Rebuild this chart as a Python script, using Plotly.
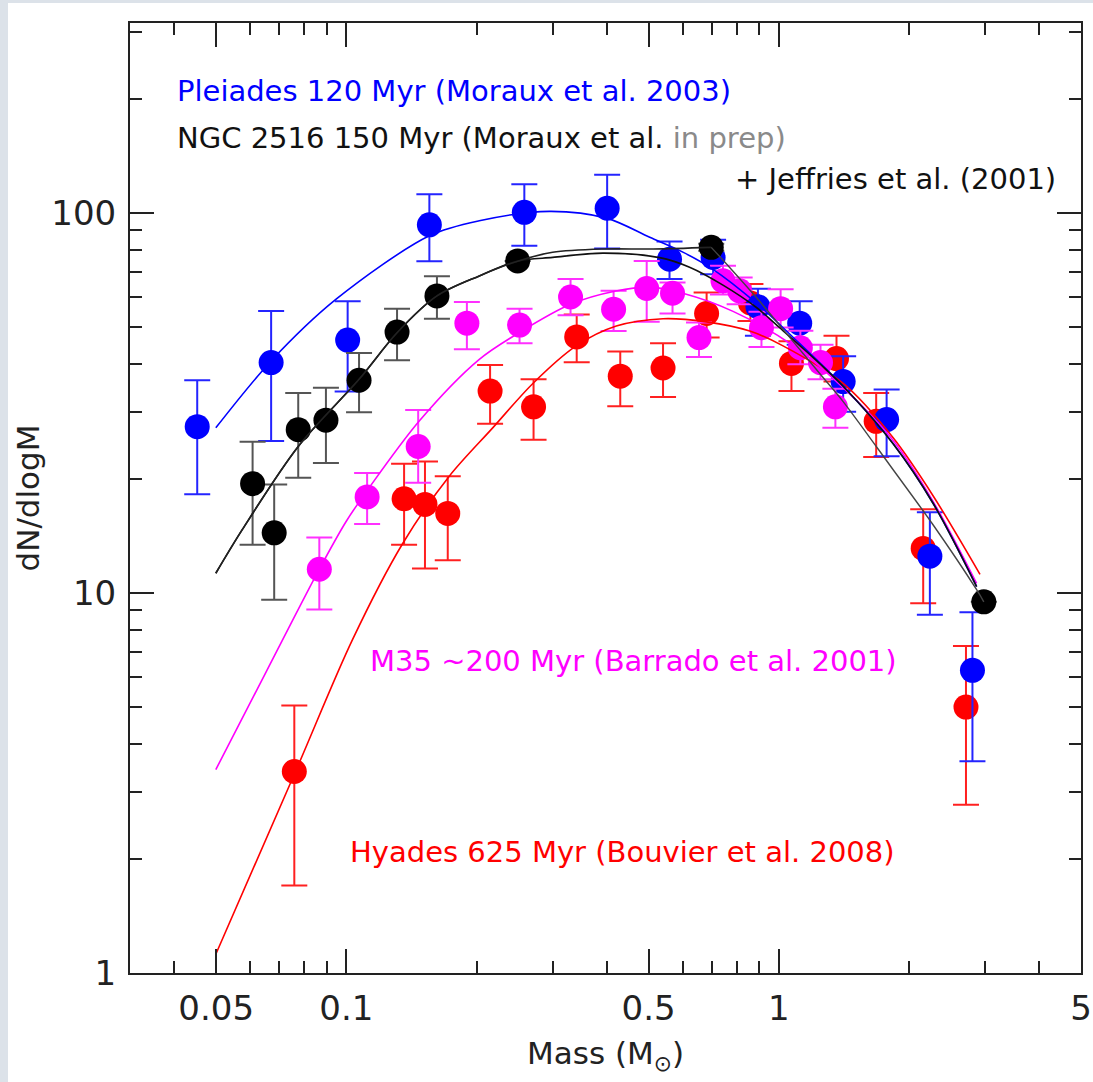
import numpy as np
import plotly.graph_objects as go

# ---- Measured mass functions (dN/dlogM) --------------------------------
# Pleiades, 120 Myr (Moraux et al. 2003)
ple_mass = [0.0452, 0.067, 0.1007, 0.1556, 0.258, 0.401, 0.559, 0.705,
            0.895, 1.118, 1.409, 1.776, 2.236, 2.805]
ple_val = [27.4, 40.4, 46.3, 93.1, 100.4, 102.9, 75.6, 76.4,
           56.7, 51.3, 36.0, 28.6, 12.5, 6.26]
ple_hi = [36.3, 55.2, 58.6, 112, 119, 126, 84.2, 85.0,
          63.2, 58.6, 42.0, 34.3, 16.3, 8.9]
ple_lo = [18.2, 25.1, 33.9, 74.6, 82.0, 80.7, 67.0, 69.0,
          47.5, 45.0, 30.0, 22.9, 8.76, 3.61]

# NGC 2516, 150 Myr (Moraux et al. in prep + Jeffries et al. 2001)
ngc_mass = [0.0607, 0.0681, 0.0774, 0.0897, 0.107, 0.131, 0.162, 0.249, 0.698, 2.98]
ngc_val = [19.4, 14.4, 26.9, 28.5, 36.3, 48.6, 60.5, 74.8, 81.2, 9.48]
ngc_hi = [25.0, 19.3, 33.6, 34.7, 42.8, 56.0, 68.2, None, 83.0, None]
ngc_lo = [13.4, 9.6, 20.1, 22.0, 29.9, 41.0, 52.7, None, 79.5, None]

# M35, ~200 Myr (Barrado et al. 2001)
m35_mass = [0.0866, 0.1117, 0.1466, 0.19, 0.2515, 0.33, 0.415, 0.495, 0.568,
            0.654, 0.743, 0.812, 0.912, 1.01, 1.122, 1.249, 1.352]
m35_val = [11.55, 17.9, 24.3, 51.3, 50.7, 60.1, 55.8, 63.3, 61.5,
           47.0, 66.3, 62.4, 49.9, 56.0, 44.2, 40.4, 30.9]
m35_hi = [14.0, 20.7, 30.3, 58.3, 56.0, 67.0, 62.4, 74.8, 65.6,
          51.5, 72.6, 67.6, 55.0, 63.0, 49.0, 45.0, 34.5]
m35_lo = [9.05, 15.2, 19.5, 43.8, 45.4, 53.8, 48.9, 51.7, 54.4,
          41.8, 61.0, 57.5, 44.4, 50.0, 40.0, 36.5, 27.2]

# Hyades, 625 Myr (Bouvier et al. 2008)
hya_mass = [0.0758, 0.136, 0.152, 0.1716, 0.215, 0.271, 0.341, 0.43, 0.54,
            0.681, 0.86, 1.07, 1.36, 1.68, 2.158, 2.71]
hya_val = [3.39, 17.7, 17.1, 16.2, 34.0, 30.9, 47.2, 37.2, 39.1,
           54.4, 58.0, 40.2, 41.4, 28.3, 13.1, 5.01]
hya_hi = [5.06, 21.9, 22.2, 20.3, 39.8, 36.5, 54.1, 43.2, 45.4,
          61.8, 65.0, 46.0, 47.5, 33.6, 16.6, 7.25]
hya_lo = [1.70, 13.4, 11.6, 12.2, 27.9, 25.3, 40.5, 31.0, 32.8,
          47.0, 52.0, 34.0, 36.0, 22.8, 9.4, 2.77]

# ---- Fitted mass functions -----------------------------------------------
ple_fit_m = [0.0499, 0.067, 0.0947, 0.1556, 0.203, 0.295, 0.401, 0.503, 0.600,
             0.703, 0.888, 1.079, 1.409, 1.839, 2.276, 2.868]
ple_fit_v = [27.2, 40.8, 59.3, 87.1, 95.4, 101.0, 96.8, 86.3, 78.9,
             71.2, 57.9, 47.1, 35.0, 24.7, 17.2, 10.4]

ngc_fit_m = [0.0499, 0.0575, 0.0774, 0.107, 0.131, 0.162, 0.203, 0.249, 0.300,
             0.392, 0.530, 0.622, 0.743, 0.888, 1.005, 1.159, 1.409, 1.839,
             2.276, 2.868]
ngc_fit_v = [11.27, 14.7, 24.3, 36.5, 48.4, 60.5, 68.3, 74.7, 76.4,
             78.4, 76.3, 72.0, 64.6, 56.4, 49.9, 43.2, 35.0, 24.7,
             17.2, 10.4]

# two-part fit: low-mass segment up to 0.7 Msun, then high-mass segment
ngc_low_m = [0.0499, 0.0575, 0.0774, 0.107, 0.131, 0.162, 0.203, 0.249, 0.300,
             0.392, 0.512, 0.698]
ngc_low_v = [11.27, 14.7, 24.3, 36.5, 48.4, 60.5, 68.3, 74.7, 78.8,
             80.4, 80.4, 81.2]
ngc_high_m = [0.698, 0.770, 0.888, 1.061, 1.266, 1.409, 1.839, 2.276, 2.868, 2.98]
ngc_high_v = [81.2, 71.9, 59.9, 47.0, 36.9, 31.9, 21.1, 15.1, 10.2, 9.48]

m35_fit_m = [0.0499, 0.0652, 0.0866, 0.0998, 0.1117, 0.1476, 0.203, 0.2515, 0.33,
             0.42, 0.503, 0.600, 0.784, 1.079, 1.409, 1.839, 2.276, 2.868]
m35_fit_v = [3.43, 6.19, 11.55, 15.4, 18.6, 28.4, 41.2, 48.5, 57.5,
             62.3, 63.8, 61.5, 55.1, 44.8, 34.7, 25.2, 17.4, 10.6]

hya_fit_m = [0.0499, 0.0762, 0.1034, 0.135, 0.173, 0.218, 0.270, 0.340, 0.421,
             0.540, 0.680, 0.857, 1.023, 1.409, 1.839, 2.276, 2.92]
hya_fit_v = [1.12, 3.38, 7.55, 13.5, 20.3, 27.2, 35.6, 44.7, 50.4,
             52.7, 51.7, 48.9, 44.7, 35.6, 25.6, 18.0, 11.2]

# ---- Axis ticks ----------------------------------------------------------
x_major = [0.05, 0.1, 0.5, 1, 5]
x_major_text = ["0.05", "0.1", "0.5", "1", "5"]
x_minor = [0.04, 0.06, 0.07, 0.08, 0.09, 0.2, 0.3, 0.4, 0.6, 0.7, 0.8, 0.9, 2, 3, 4]
y_major = [1, 10, 100]
y_major_text = ["1", "10", "100"]
y_minor = [2, 3, 4, 5, 6, 7, 8, 9, 20, 30, 40, 50, 60, 70, 80, 90, 200, 300]

BLUE, BLACK, MAGENTA, RED = "#0000ff", "#000000", "#ff00ff", "#ff0000"
FONT = "DejaVu Sans"
AXIS_COL = "#222222"


def err_plus(val, hi):
    return [None if h is None else h - v for v, h in zip(val, hi)]


def err_minus(val, lo):
    return [None if l is None else v - l for v, l in zip(val, lo)]


def points(name, mass, val, hi, lo, color, ecolor):
    return go.Scatter(
        x=mass, y=val, mode="markers", name=name,
        marker=dict(color=color, size=25, line=dict(width=0)),
        error_y=dict(type="data", symmetric=False,
                     array=err_plus(val, hi), arrayminus=err_minus(val, lo),
                     color=ecolor, thickness=2, width=13),
    )


def curve(name, mass, val, color, width=1.6):
    return go.Scatter(x=mass, y=val, mode="lines", name=name,
                      line=dict(color=color, width=width, shape="spline",
                                smoothing=0.9))


fig = go.Figure()
fig.add_trace(points("Hyades", hya_mass, hya_val, hya_hi, hya_lo, RED, "#ff2020"))
fig.add_trace(points("Pleiades", ple_mass, ple_val, ple_hi, ple_lo, BLUE, "#2424ff"))
fig.add_trace(points("M35", m35_mass, m35_val, m35_hi, m35_lo, MAGENTA, "#ff30ff"))
fig.add_trace(points("NGC 2516", ngc_mass, ngc_val, ngc_hi, ngc_lo, BLACK, "#555555"))

fig.add_trace(curve("Hyades fit", hya_fit_m, hya_fit_v, RED))
fig.add_trace(curve("M35 fit", m35_fit_m, m35_fit_v, MAGENTA))
fig.add_trace(curve("Pleiades fit", ple_fit_m, ple_fit_v, BLUE))
fig.add_trace(curve("NGC 2516 fit", ngc_fit_m, ngc_fit_v, "#111111"))
fig.add_trace(curve("NGC 2516 fit (low)", ngc_low_m, ngc_low_v, "#222222"))
fig.add_trace(curve("NGC 2516 fit (high)", ngc_high_m, ngc_high_v, "#444444", 1.4))

axis_common = dict(
    showgrid=False, zeroline=False, showline=True, linecolor=AXIS_COL, linewidth=2,
    mirror="allticks", ticks="inside", ticklen=24, tickwidth=2, tickcolor=AXIS_COL,
    tickfont=dict(family=FONT, size=34, color="#222222"),
)

fig.update_xaxes(
    type="log", range=[np.log10(0.0316), np.log10(5.0)],
    tickmode="array", tickvals=x_major, ticktext=x_major_text,
    minor=dict(tickmode="array", tickvals=x_minor, ticks="inside", ticklen=12,
               tickwidth=2, tickcolor=AXIS_COL, showgrid=False),
    ticklabelstandoff=4,
    title=dict(text="Mass (M<sub>⊙</sub>)", font=dict(family=FONT, size=31, color="#222222"),
               standoff=16),
    **axis_common,
)
fig.update_yaxes(
    type="log", range=[0, 2.5],
    tickmode="array", tickvals=y_major, ticktext=y_major_text,
    minor=dict(tickmode="array", tickvals=y_minor, ticks="inside", ticklen=12,
               tickwidth=2, tickcolor=AXIS_COL, showgrid=False),
    ticklabelstandoff=5,
    title=dict(text="dN/dlogM", font=dict(family=FONT, size=31, color="#222222"),
               standoff=2),
    **axis_common,
)

# plot-area geometry (pixels) used to place the text labels
L, R, T, B, W, H = 130, 12, 23, 109, 1093, 1082
PW, PH = W - L - R, H - T - B


def px(x):
    return (x - L) / PW


def py(y):
    return (H - B - y) / PH


labels = [
    ("Pleiades 120 Myr (Moraux et al. 2003)", 175, 91, "left", BLUE),
    ("NGC 2516 150 Myr (Moraux et al. <span style='color:#8a8a8a'>in prep)</span>",
     175, 138, "left", "#111111"),
    ("+ Jeffries et al. (2001)", 1058, 179, "right", "#111111"),
    ("M35 ~200 Myr (Barrado et al. 2001)", 368, 661, "left", MAGENTA),
    ("Hyades 625 Myr (Bouvier et al. 2008)", 348, 852, "left", RED),
]
for text, x, y, anchor, color in labels:
    fig.add_annotation(text=text, x=px(x), y=py(y), xref="paper", yref="paper",
                       xanchor=anchor, yanchor="middle", showarrow=False,
                       font=dict(family=FONT, size=29, color=color))

# thin bluish frame along the left and top edges of the page
frame_col = "#dce2e9"
fig.add_shape(type="rect", xref="paper", yref="paper", x0=px(0), x1=px(8),
              y0=py(H), y1=py(0), fillcolor=frame_col, line=dict(width=0), layer="below")
fig.add_shape(type="rect", xref="paper", yref="paper", x0=px(0), x1=px(W),
              y0=py(3), y1=py(0), fillcolor=frame_col, line=dict(width=0), layer="below")

fig.update_layout(
    width=W, height=H,
    margin=dict(l=L, r=R, t=T, b=B, autoexpand=False),
    paper_bgcolor="white", plot_bgcolor="white",
    showlegend=False,
    font=dict(family=FONT),
)

fig.write_html("out.html")
